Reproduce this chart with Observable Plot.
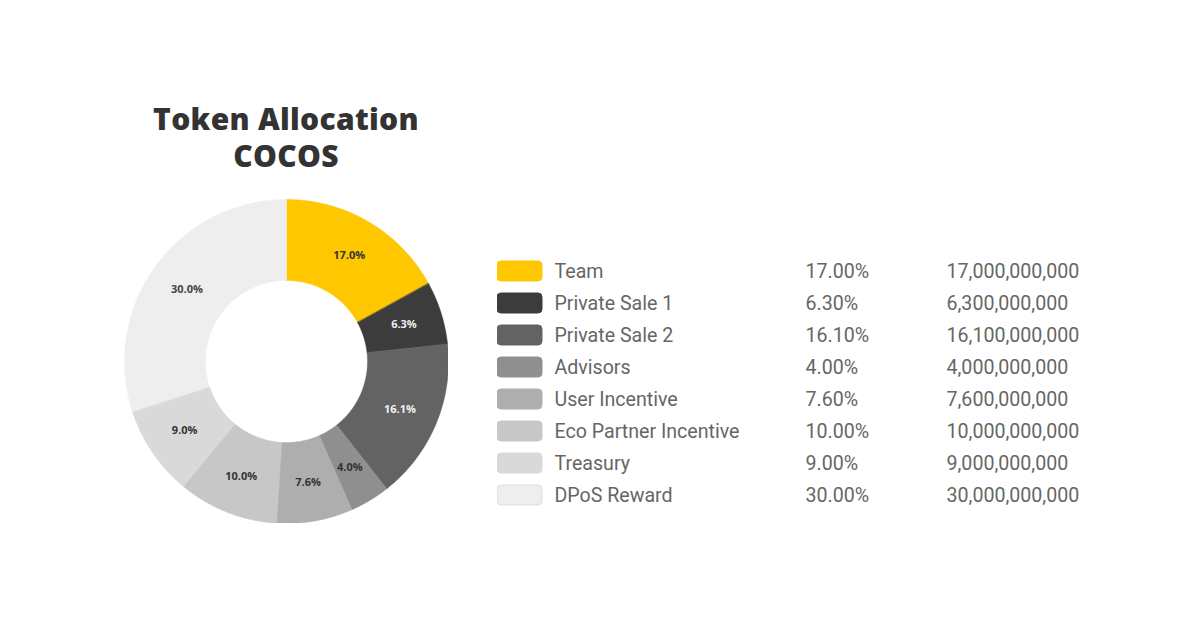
<!DOCTYPE html>
<html>
<head>
<meta charset="utf-8">
<script src="https://cdn.jsdelivr.net/npm/d3@7"></script>
<script src="https://cdn.jsdelivr.net/npm/@observablehq/plot@0.6"></script>
<style>
  html, body { margin: 0; padding: 0; background: #ffffff; }
  #stage { position: relative; width: 1200px; height: 628px; overflow: hidden; background: #ffffff; }
  #title { position: absolute; left: 86px; width: 400px; top: 100px; text-align: center;
           font-family: "Open Sans", sans-serif; font-weight: 800; font-size: 30px; line-height: 37px; color: #333333; letter-spacing: 0.3px; }
  #donut { position: absolute; left: 124px; top: 199px; }
  #legend { position: absolute; left: 497px; top: 252px; }
</style>
</head>
<body>
<div id="stage">
  <div id="title">Token Allocation<br>COCOS</div>
  <div id="donut"></div>
  <div id="legend"></div>
</div>
<script>
const names = ["Team", "Private Sale 1", "Private Sale 2", "Advisors", "User Incentive", "Eco Partner Incentive", "Treasury", "DPoS Reward"];
const shares = [17.0, 6.3, 16.1, 4.0, 7.6, 10.0, 9.0, 30.0];
const amounts = [17000000000, 6300000000, 16100000000, 4000000000, 7600000000, 10000000000, 9000000000, 30000000000];
const colors = ["#ffc700", "#3c3c3c", "#636363", "#8f8f8f", "#aeaeae", "#c7c7c7", "#d9d9d9", "#eeeeee"];
const labelColors = ["#333333", "#eeeeee", "#f2f2f2", "#333333", "#333333", "#333333", "#333333", "#444444"];

const rows = names.map((name, i) => ({
  name, share: shares[i], amount: amounts[i], color: colors[i], labelColor: labelColors[i]
}));

// Donut geometry via d3.pie (angles from the data)
const INNER = 0.5, OUTER = 1.0, LABEL_R = 0.76;
const arcs = d3.pie().sort(null).value(d => d.share)(rows);
const features = arcs.map(a => {
  const ring = [];
  const n = Math.max(8, Math.ceil((a.endAngle - a.startAngle) / 0.01));
  for (let k = 0; k <= n; k++) {
    const t = a.startAngle + (a.endAngle - a.startAngle) * k / n;
    ring.push([OUTER * Math.sin(t), OUTER * Math.cos(t)]);
  }
  for (let k = n; k >= 0; k--) {
    const t = a.startAngle + (a.endAngle - a.startAngle) * k / n;
    ring.push([INNER * Math.sin(t), INNER * Math.cos(t)]);
  }
  ring.push(ring[0]);
  const mid = (a.startAngle + a.endAngle) / 2;
  return {
    type: "Feature",
    properties: { ...a.data, lx: LABEL_R * Math.sin(mid), ly: LABEL_R * Math.cos(mid) },
    geometry: { type: "Polygon", coordinates: [ring] }
  };
});

const donut = Plot.plot({
  width: 324, height: 324, margin: 0, inset: 0,
  projection: { type: "reflect-y", domain: { type: "MultiPoint", coordinates: [[-OUTER, -OUTER], [OUTER, OUTER]] } },
  marks: [
    Plot.geo(features, { fill: d => d.properties.color, stroke: d => d.properties.color, strokeWidth: 0.5 }),
    Plot.text(features, {
      x: d => d.properties.lx, y: d => d.properties.ly,
      text: d => d.properties.share.toFixed(1) + "%",
      fill: d => d.properties.labelColor,
      fontSize: 11, fontWeight: 700, fontFamily: "Open Sans, sans-serif"
    })
  ]
});
document.getElementById("donut").appendChild(donut);

const pctFmt = d => d.toFixed(2) + "%";
const numFmt = d3.format(",");

const legend = Plot.plot({
  width: 600, height: 262, margin: 0,
  x: { domain: [0, 600], range: [0, 600], axis: null },
  y: { domain: names, paddingInner: 0.38, paddingOuter: 0.19, axis: null },
  marks: [
    Plot.barX(rows, { x1: 0, x2: 45, y: "name", fill: "color", rx: 4,
      stroke: d => d.name === "DPoS Reward" ? "#dddddd" : d.color, strokeWidth: 1 }),
    Plot.text(rows, { x: 57, y: "name", text: "name", textAnchor: "start", fill: "#666666",
      fontSize: 19.6, fontFamily: "Roboto, sans-serif" }),
    Plot.text(rows, { x: 308, y: "name", text: d => pctFmt(d.share), textAnchor: "start", fill: "#666666",
      fontSize: 19.6, fontFamily: "Roboto, sans-serif" }),
    Plot.text(rows, { x: 449, y: "name", text: d => numFmt(d.amount), textAnchor: "start", fill: "#666666",
      fontSize: 19.6, fontFamily: "Roboto, sans-serif" })
  ]
});
document.getElementById("legend").appendChild(legend);
</script>
</body>
</html>
